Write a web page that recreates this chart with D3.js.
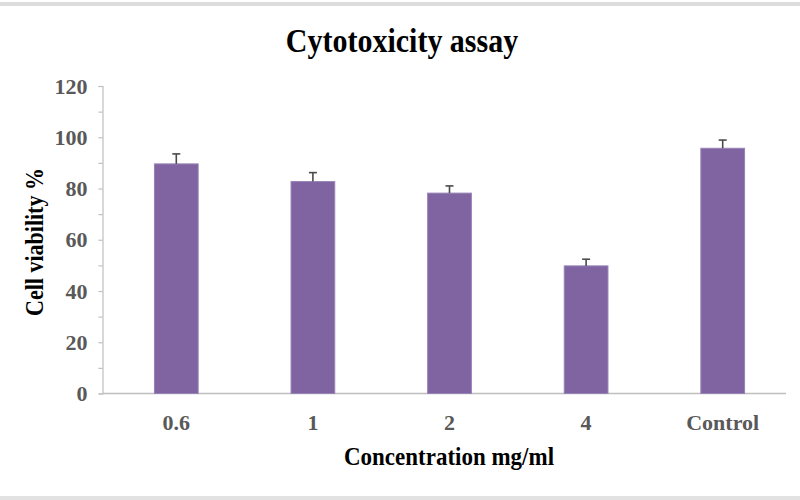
<!DOCTYPE html>
<html>
<head>
<meta charset="utf-8">
<script src="https://cdn.jsdelivr.net/npm/d3@7"></script>
<style>
html,body{margin:0;padding:0;background:#fff;}
svg{display:block;}
text{font-family:"Liberation Serif","Times New Roman",serif;font-weight:bold;}
</style>
</head>
<body>
<svg id="chart" width="800" height="500"></svg>
<script>
const categories = ["0.6", "1", "2", "4", "Control"];
const values = [89.6, 82.7, 78.2, 49.8, 95.7];
const errors = [3.9, 3.5, 2.8, 2.6, 3.2];
const yTicks = [0, 20, 40, 60, 80, 100, 120];
const yMinorTicks = [10, 30, 50, 70, 90, 110];
const titleText = "Cytotoxicity assay";
const xTitle = "Concentration mg/ml";
const yTitle = "Cell viability %";

const svg = d3.select("#chart");
const W = 800, H = 500;

// frame bands
svg.append("rect").attr("x", 0).attr("y", 2).attr("width", W).attr("height", 4).attr("fill", "#dcdcdc");
svg.append("rect").attr("x", 0).attr("y", 496).attr("width", W).attr("height", 4).attr("fill", "#e2e2e2");

const axisX0 = 102.5, axisX1 = 786;
const y = d3.scaleLinear().domain([0, 120]).range([393.5, 86]);
const x = d3.scaleBand().domain(categories).range([108, 791]).paddingInner(0.68).paddingOuter(0.34);

// title
svg.append("text").attr("transform", "translate(402,52) scale(1,1.15)").attr("text-anchor", "middle")
  .attr("font-size", 30).attr("fill", "#000").text(titleText);

// y axis
const yAxis = d3.axisLeft(y).tickValues(yTicks.concat(yMinorTicks).sort((a,b)=>a-b))
  .tickSize(4).tickPadding(11).tickFormat(d => yTicks.includes(d) ? d : "");
const gy = svg.append("g").attr("transform", `translate(${axisX0},0)`).call(yAxis);
gy.select(".domain").attr("stroke", "#bfbfbf").attr("stroke-width", 1.2);
gy.selectAll(".tick line").attr("stroke", "#bfbfbf").attr("stroke-width", 1.2);
gy.selectAll(".tick text").attr("font-size", 22).attr("fill", "#595959")
  .attr("font-family", "Liberation Serif, serif").attr("font-weight", "bold");

// x axis line
svg.append("line").attr("x1", axisX0).attr("x2", axisX1).attr("y1", y(0)).attr("y2", y(0))
  .attr("stroke", "#bfbfbf").attr("stroke-width", 1.5);

// x tick labels
svg.append("g").selectAll("text").data(categories).join("text")
  .attr("x", d => x(d) + x.bandwidth() / 2).attr("y", 430)
  .attr("text-anchor", "middle").attr("font-size", 22).attr("fill", "#595959").text(d => d);

// bars
const data = categories.map((c, i) => ({c, v: values[i], e: errors[i]}));
svg.append("g").selectAll("rect").data(data).join("rect")
  .attr("x", d => x(d.c)).attr("width", x.bandwidth())
  .attr("y", d => y(d.v)).attr("height", d => y(0) - y(d.v))
  .attr("fill", "#8064a2").attr("stroke", "#9683b6").attr("stroke-width", 1);

// error bars
const eg = svg.append("g").attr("stroke", "#4a4a4a").attr("stroke-width", 1.6);
eg.selectAll("line.v").data(data).join("line").attr("class", "v")
  .attr("x1", d => x(d.c) + x.bandwidth() / 2).attr("x2", d => x(d.c) + x.bandwidth() / 2)
  .attr("y1", d => y(d.v)).attr("y2", d => y(d.v + d.e));
eg.selectAll("line.c").data(data).join("line").attr("class", "c")
  .attr("x1", d => x(d.c) + x.bandwidth() / 2 - 4).attr("x2", d => x(d.c) + x.bandwidth() / 2 + 4)
  .attr("y1", d => y(d.v + d.e)).attr("y2", d => y(d.v + d.e));

// axis titles
svg.append("text").attr("transform", "translate(449,465) scale(1,1.12)").attr("text-anchor", "middle")
  .attr("font-size", 23).attr("fill", "#000").text(xTitle);
svg.append("text").attr("transform", "translate(43,242) rotate(-90) scale(1,1.1)").attr("text-anchor", "middle")
  .attr("font-size", 22).attr("fill", "#000").text(yTitle);
</script>
</body>
</html>
